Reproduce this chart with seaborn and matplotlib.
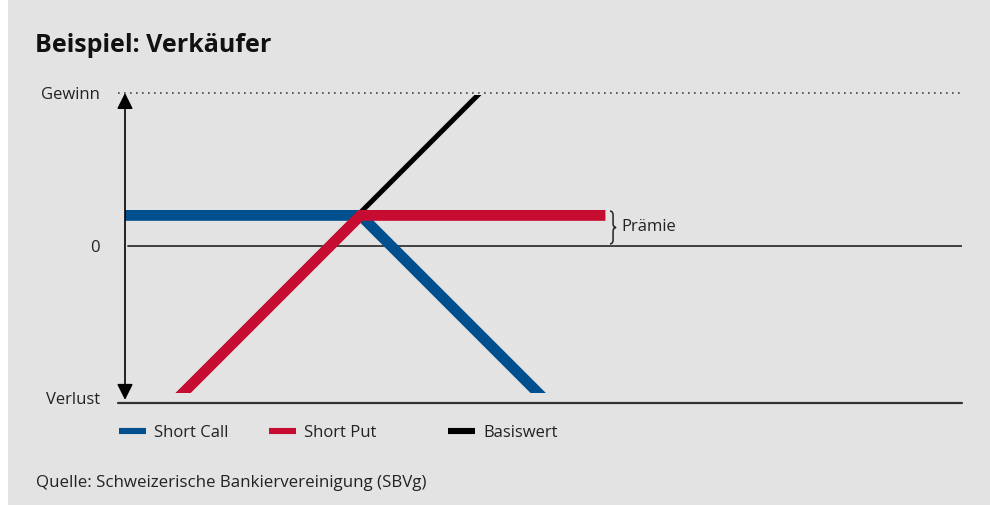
import matplotlib.pyplot as plt
import seaborn as sns
from matplotlib.lines import Line2D
from matplotlib.patches import Rectangle, PathPatch
from matplotlib.path import Path

# Werte (Kurs des Basiswerts -> Gewinn/Verlust)
kurs = [0.0, 7.7, 15.7]
short_call = [1.0, 1.0, -7.0]
short_put = [-6.7, 1.0, 1.0]
basis_kurs = [0.0, 12.0]
basiswert = [-6.6, 5.4]
praemie = 1.0

y_labels = ['Gewinn', '0', 'Verlust']
y_pos = [5.0, 0.0, -4.97]

serien = ['Short Call', 'Short Put', 'Basiswert']
farben = ['#00508f', '#c60c30', '#000000']

sns.set_theme(style='white')
plt.rcParams['font.family'] = ['Open Sans', 'DejaVu Sans']
textfarbe = '#222222'

fig = plt.figure(figsize=(9.9, 5.05), dpi=100, facecolor='white')
fig.patches.append(Rectangle((8 / 990, 0), 1, 1, transform=fig.transFigure,
                             facecolor='#e3e3e3', edgecolor='none', zorder=-10))

ax = fig.add_axes([125 / 990, 1 - 403 / 505, 837 / 990, 310 / 505])
ax.set_facecolor('none')
ax.set_xlim(0, 837 / 30.6)
ax.set_ylim(-5.13, 5.0)
for s in ax.spines.values():
    s.set_visible(False)
ax.set_xticks([])
ax.set_yticks(y_pos, y_labels)
ax.tick_params(axis='y', length=0, pad=18, labelsize=12, labelcolor=textfarbe)

# Linien
clip = Rectangle((0, -4.8), 40, 9.73, transform=ax.transData)
sns.lineplot(x=kurs, y=short_call, ax=ax, color=farben[0], linewidth=7.8, sort=False, zorder=2)
sns.lineplot(x=basis_kurs, y=basiswert, ax=ax, color=farben[2], linewidth=3.6, sort=False, zorder=3)
sns.lineplot(x=kurs, y=short_put, ax=ax, color=farben[1], linewidth=7.8, sort=False, zorder=4)
for ln in ax.lines:
    ln.set_solid_capstyle('butt')
    ln.set_solid_joinstyle('miter')
    ln.set_clip_path(clip)

# Achsen
ax.axhline(0, xmin=3 / 837, xmax=1, color='#333333', lw=1.3, zorder=1)
ax.plot([-7 / 837, 1], [0, 0], transform=ax.transAxes, color='#333333', lw=1.6, clip_on=False)
ax.plot([-7 / 837, 1], [1, 1], transform=ax.transAxes, color='#444444', lw=1.2,
        ls=(0, (1, 2.6)), clip_on=False)
ax.annotate('', xy=(0, 1), xytext=(0, 0.01), xycoords='axes fraction',
            arrowprops=dict(arrowstyle='<|-|>,head_length=0.6,head_width=0.3',
                            mutation_scale=16, color='black', lw=1.2,
                            shrinkA=0, shrinkB=0))

# Klammer Prämie
bx, w = 15.85, 0.2
y0, y1 = 0.07, praemie + 0.14
ym = (y0 + y1) / 2
h = y1 - y0
verts = [(bx, y1), (bx + w / 2, y1), (bx + w / 2, y1 - 0.12 * h),
         (bx + w / 2, ym + 0.12 * h),
         (bx + w / 2, ym), (bx + w, ym),
         (bx + w / 2, ym), (bx + w / 2, ym - 0.12 * h),
         (bx + w / 2, y0 + 0.12 * h),
         (bx + w / 2, y0), (bx, y0)]
codes = [Path.MOVETO, Path.CURVE3, Path.CURVE3, Path.LINETO,
         Path.CURVE3, Path.CURVE3, Path.CURVE3, Path.CURVE3, Path.LINETO,
         Path.CURVE3, Path.CURVE3]
ax.add_patch(PathPatch(Path(verts, codes), fill=False, lw=1.1, edgecolor='#222222'))
ax.text(bx + 0.38, ym, 'Prämie', fontsize=12, color=textfarbe, va='center', ha='left')

# Legende
leg_x = [119, 269, 448]
for name, farbe, lx in zip(serien, farben, leg_x):
    h_ = Line2D([], [], color=farbe, lw=4.4, solid_capstyle='butt')
    fig.legend(handles=[h_], labels=[name], loc='center left',
               bbox_to_anchor=(lx / 990, 1 - 433 / 505), frameon=False,
               handlelength=1.6, handletextpad=0.5, borderpad=0, borderaxespad=0,
               fontsize=12, labelcolor=textfarbe)

fig.text(35 / 990, 1 - 45 / 505, 'Beispiel: Verkäufer', fontsize=18, fontweight='bold',
         color='#111111', va='center', ha='left')
fig.text(36 / 990, 1 - 483 / 505, 'Quelle: Schweizerische Bankiervereinigung (SBVg)',
         fontsize=12.2, color=textfarbe, va='center', ha='left')

fig.savefig('out.png', dpi=100, facecolor=fig.get_facecolor())
